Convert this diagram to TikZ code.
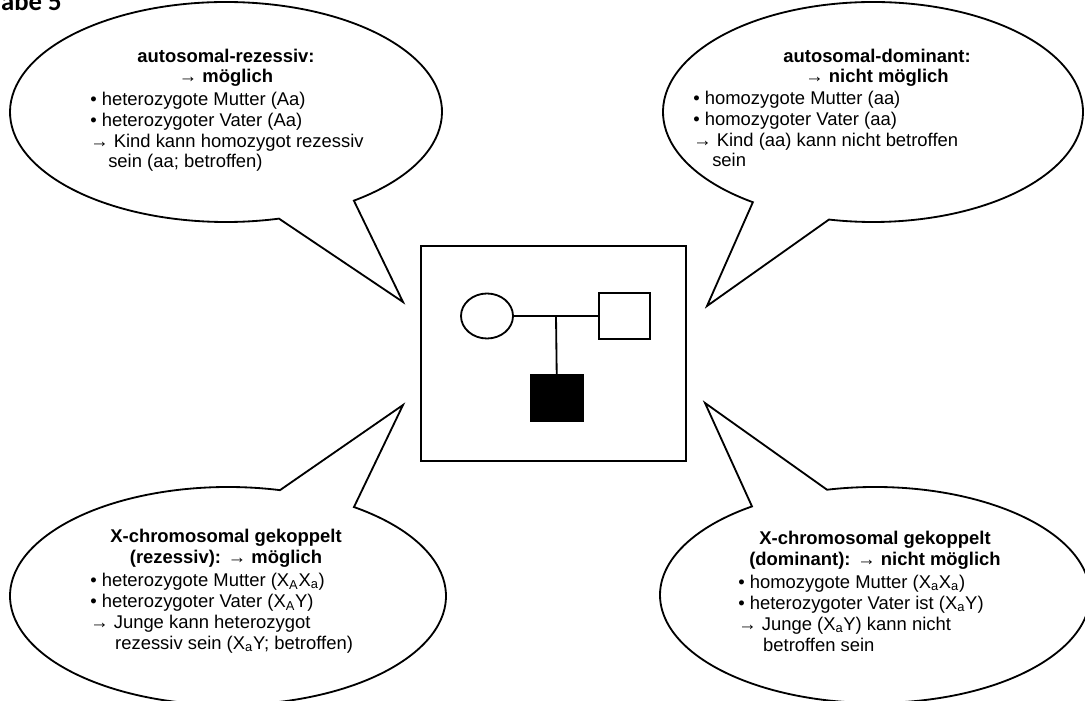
\documentclass[tikz,border=0pt]{standalone}
\usepackage{fontspec}
\setmainfont{Liberation Sans}
\newfontfamily\titlefont{Carlito}
\usetikzlibrary{shapes.geometric,positioning,calc}
\tikzset{>=latex}
\tikzset{
    bubble/.style={line width=1.3pt,fill=white,line join=miter},
    head/.style={anchor=base,align=center,inner sep=0pt,font=\fontsize{13.1}{14.9}\selectfont\bfseries},
    lst/.style={anchor=base west,align=left,inner sep=0pt,font=\fontsize{13.1}{14.9}\selectfont},
    ped/.style={draw,line width=1.3pt,inner sep=0pt}
}
\newcommand{\xs}[1]{X\textsubscript{#1}}

\begin{document}
\begin{tikzpicture}[x=0.025cm,y=-0.025cm]
    \useasboundingbox (0,0) rectangle (1085,701);
    \node [anchor=base east,inner sep=0pt,font=\titlefont\fontsize{19}{22}\selectfont\bfseries] (title) at (62,11) {abe 5};

    \coordinate (cAR) at (226,112);
    \coordinate (tipAR) at (403,302);
    \draw [bubble] ($(cAR)+(53.7:216 and 110)$) arc [start angle=53.7,end angle=-284.2,x radius=216,y radius=110] -- (tipAR) -- cycle;
    \node [head] (arHead) at (226,83) {autosomal-rezessiv:\\→ möglich};
    \node [lst] (arList) at (90,168) {• heterozygote Mutter (Aa)\\• heterozygoter Vater (Aa)\\→ Kind kann homozygot rezessiv\\\hspace*{12.8pt}sein (aa; betroffen)};

    \coordinate (cAD) at (873,112);
    \coordinate (tipAD) at (707,306);
    \draw [bubble] ($(cAD)+(124.9:210 and 110)$) arc [start angle=124.9,end angle=462.1,x radius=210,y radius=110] -- (tipAD) -- cycle;
    \node [head] (adHead) at (877,83) {autosomal-dominant:\\→ nicht möglich};
    \node [lst] (adList) at (693,167) {• homozygote Mutter (aa)\\• homozygoter Vater (aa)\\→ Kind (aa) kann nicht betroffen\\\hspace*{13.5pt}sein};

    \coordinate (cXR) at (228,596);
    \coordinate (tipXR) at (403,405);
    \draw [bubble] ($(cXR)+(-54.7:218 and 109)$) arc [start angle=-54.7,end angle=283.8,x radius=218,y radius=109] -- (tipXR) -- cycle;
    \node [head] (xrHead) at (226,563) {X-chromosomal gekoppelt\\(rezessiv): → möglich};
    \node [lst] (xrList) at (90,649) {• heterozygote Mutter (\xs{A}\xs{a})\\• heterozygoter Vater (\xs{A}Y)\\→ Junge kann heterozygot\\\hspace*{17.7pt}rezessiv sein (\xs{a}Y; betroffen)};

    \coordinate (cXD) at (875,595);
    \coordinate (tipXD) at (705,403);
    \draw [bubble] ($(cXD)+(257.1:215 and 108)$) arc [start angle=257.1,end angle=595.1,x radius=215,y radius=108] -- (tipXD) -- cycle;
    \node [head] (xdHead) at (875,565) {X-chromosomal gekoppelt\\(dominant): → nicht möglich};
    \node [lst] (xdList) at (738,651) {• homozygote Mutter (\xs{a}\xs{a})\\• heterozygoter Vater ist (\xs{a}Y)\\→ Junge (\xs{a}Y) kann nicht\\\hspace*{17.7pt}betroffen sein};

    \draw [line width=1.3pt] (421,246) rectangle (686,461);
    \node [ped,ellipse,minimum width=1.3cm,minimum height=1.125cm] (mother) at (487,316) {};
    \node [ped,rectangle,minimum width=1.275cm,minimum height=1.15cm] (father) at (624.5,316) {};
    \node [ped,rectangle,fill=black,minimum width=1.3cm,minimum height=1.15cm] (son) at (557,398) {};
    \coordinate (mating) at ($(mother.east)!0.5!(father.west)$);
    \draw [line width=1.3pt] (mother) -- (father);
    \draw [line width=1.3pt] (mating) -- (son);
\end{tikzpicture}
\end{document}
